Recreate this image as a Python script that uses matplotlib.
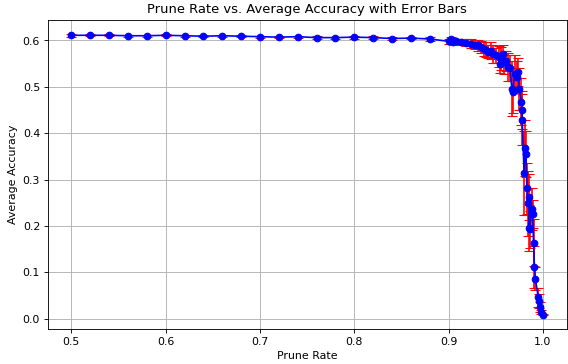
import matplotlib
matplotlib.use('Agg')
import matplotlib.pyplot as plt

# prune rate, mean accuracy, std of accuracy
prune_rate = [0.50, 0.52, 0.54, 0.56, 0.58, 0.60, 0.62, 0.64, 0.66, 0.68,
              0.70, 0.72, 0.74, 0.76, 0.78, 0.80, 0.82, 0.84, 0.86, 0.88,
              0.900, 0.902, 0.905, 0.908, 0.913, 0.918, 0.924, 0.928, 0.931, 0.934,
              0.937, 0.940, 0.942, 0.945, 0.947, 0.950, 0.953, 0.954, 0.956, 0.958,
              0.959, 0.961, 0.963, 0.965, 0.967, 0.968, 0.970, 0.972, 0.974, 0.975,
              0.977, 0.978, 0.978, 0.980, 0.981, 0.982, 0.983, 0.984, 0.985, 0.985,
              0.986, 0.988, 0.989, 0.990, 0.991, 0.992, 0.995, 0.996, 0.997, 0.998,
              1.000]
avg_acc = [0.611, 0.611, 0.611, 0.610, 0.610, 0.611, 0.610, 0.609, 0.610, 0.609,
           0.608, 0.607, 0.608, 0.606, 0.606, 0.607, 0.606, 0.604, 0.605, 0.603,
           0.598, 0.602, 0.597, 0.598, 0.597, 0.595, 0.593, 0.591, 0.589, 0.586,
           0.582, 0.580, 0.575, 0.578, 0.571, 0.568, 0.565, 0.550, 0.561, 0.571,
           0.553, 0.556, 0.543, 0.540, 0.496, 0.489, 0.528, 0.521, 0.531, 0.496,
           0.468, 0.450, 0.429, 0.314, 0.368, 0.355, 0.281, 0.249, 0.263, 0.195,
           0.193, 0.236, 0.225, 0.164, 0.111, 0.086, 0.046, 0.039, 0.025, 0.014,
           0.009]
acc_std = [0.003, 0.002, 0.002, 0.002, 0.002, 0.002, 0.002, 0.002, 0.002, 0.002,
           0.002, 0.002, 0.002, 0.003, 0.002, 0.003, 0.003, 0.003, 0.003, 0.004,
           0.006, 0.005, 0.006, 0.006, 0.007, 0.008, 0.009, 0.010, 0.012, 0.013,
           0.015, 0.016, 0.014, 0.018, 0.020, 0.016, 0.022, 0.020, 0.024, 0.018,
           0.025, 0.022, 0.030, 0.028, 0.060, 0.045, 0.040, 0.035, 0.030, 0.045,
           0.050, 0.040, 0.055, 0.090, 0.060, 0.050, 0.055, 0.070, 0.050, 0.050,
           0.040, 0.045, 0.030, 0.050, 0.045, 0.025, 0.020, 0.015, 0.010, 0.004,
           0.001]

fig, ax = plt.subplots(figsize=(7.2, 4.61), dpi=79)
ax.errorbar(prune_rate, avg_acc, yerr=acc_std, fmt='-o', color='blue',
            ecolor='red', capsize=5, markersize=6)
ax.set_title('Prune Rate vs. Average Accuracy with Error Bars')
ax.set_xlabel('Prune Rate')
ax.set_ylabel('Average Accuracy')
ax.grid(True)
fig.subplots_adjust(left=0.084, right=0.996, top=0.945, bottom=0.096)
fig.savefig('out.png', dpi=79)
